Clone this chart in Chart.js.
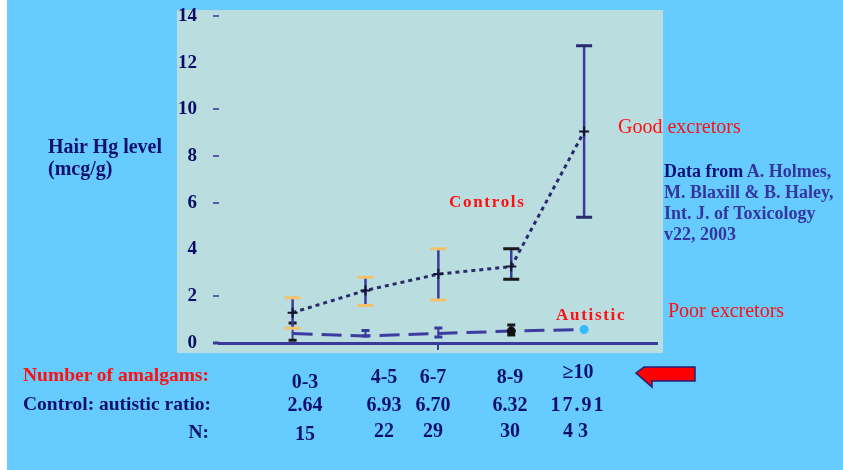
<!DOCTYPE html>
<html>
<head>
<meta charset="utf-8">
<script src="https://cdn.jsdelivr.net/npm/chart.js@4/dist/chart.umd.min.js"></script>
<style>
  body { margin: 0; width: 843px; height: 470px; background: #fff; position: relative; overflow: hidden; }
  #bg { position: absolute; left: 7px; top: 0; width: 836px; height: 470px; background: #66ccff; }
  #chart { position: absolute; left: 0; top: 0; }
  .t { position: absolute; font-family: 'Liberation Serif', 'Times New Roman', serif; white-space: nowrap; line-height: 22px; }
  .b { font-weight: bold; }
  .navy { color: #10106e; }
  .red { color: #ff1010; }
  .col { position: absolute; font-family: 'Liberation Serif', serif; font-weight: bold; font-size: 20px; color: #10106e; line-height: 22px; text-align: center; width: 70px; margin-left: -35px; }
</style>
</head>
<body>
<div id="bg"></div>
<canvas id="chart" width="843" height="470"></canvas>

<div class="t b navy" style="left:48px; top:135px; font-size:20px;">Hair Hg level<br>(mcg/g)</div>
<div class="t red" style="left:618px; top:115px; font-size:20px;">Good excretors</div>
<div class="t red" style="left:668px; top:299px; font-size:20px;">Poor excretors</div>
<div class="t b" style="left:664px; top:161px; font-size:18px; line-height:21px; color:#3535a0;"><span style="color:#10107a">Data from</span> A. Holmes,<br>M. Blaxill &amp; B. Haley,<br>Int. J. of Toxicology<br>v22, 2003</div>
<div class="t b red" style="left:449px; top:191px; font-size:17px; letter-spacing:1.7px;">Controls</div>
<div class="t b red" style="left:556px; top:304px; font-size:17px; letter-spacing:1.7px;">Autistic</div>

<div class="t b red" style="left:23px; top:364px; font-size:19.5px;">Number of amalgams:</div>
<div class="t b navy" style="left:23px; top:393px; font-size:19.5px;">Control: autistic ratio:</div>
<div class="t b navy" style="left:23px; top:421px; font-size:19.5px; width:186px; text-align:right;">N:</div>
<div id="table"></div>

<svg style="position:absolute; left:0; top:0;" width="843" height="470">
  <polygon points="636,373 644,367 695,367 695,381 652,381 652,387" fill="#ff0000" stroke="#20207a" stroke-width="1.5"/>
</svg>

<script>
// amalgam groups
const categories = ['0-3', '4-5', '6-7', '8-9', '≥10'];
const xPos = [0, 1, 2, 3, 4];

// hair Hg, controls (mean and error range)
const controls = [1.30, 2.25, 2.95, 3.27, 9.05];
const controlsLow = [0.63, 1.61, 1.84, 2.73, 5.38];
const controlsHigh = [1.94, 2.81, 4.04, 4.04, 12.73];

// hair Hg, autistic
const autistic = [0.41, 0.30, 0.41, 0.51, 0.58];
const autisticLow = [0.12, 0.30, 0.26, 0.34, 0.58];
const autisticHigh = [0.86, 0.53, 0.64, 0.77, 0.58];

// table rows
const ratios = ['2.64', '6.93', '6.70', '6.32', '17.91'];
const counts = ['15', '22', '29', '30', '43'];

const yTicks = [0, 2, 4, 6, 8, 10, 12, 14];

// table layout
const colCenters = [305, 384, 433, 510, 578];
const rowTops = [[370, 365, 365, 365, 360], [393, 393, 393, 393, 393], [422, 419, 419, 419, 419]];
const table = document.getElementById('table');
[categories, ratios, counts].forEach((row, r) => {
  row.forEach((txt, i) => {
    const d = document.createElement('div');
    d.className = 'col';
    d.style.left = colCenters[i] + 'px';
    d.style.top = rowTops[r][i] + 'px';
    if (r > 0 && i === 4) d.style.letterSpacing = r === 1 ? '2px' : '5px';
    d.textContent = txt;
    table.appendChild(d);
  });
});

const panel = {
  id: 'panel',
  beforeDraw(chart) {
    const { ctx, chartArea: a } = chart;
    ctx.save();
    ctx.fillStyle = '#badde0';
    ctx.fillRect(a.left - 42, a.top - 6, a.right - a.left + 48, a.bottom - a.top + 16);
    ctx.restore();
  },
  afterDraw(chart) {
    // axis line reaches past the tick marks on the left
    const { ctx, chartArea: a, scales: { y } } = chart;
    ctx.save();
    ctx.strokeStyle = '#3a3a9a';
    ctx.lineWidth = 3;
    ctx.beginPath();
    ctx.moveTo(a.left - 6, y.getPixelForValue(0));
    ctx.lineTo(a.left, y.getPixelForValue(0));
    ctx.stroke();
    ctx.restore();
  }
};

const capColorsC = ['#f5c26b', '#f5c26b', '#f5c26b', '#1a1a1a', '#2a2a70'];

const errorBars = {
  id: 'errorBars',
  beforeDatasetsDraw(chart) {
    const { ctx, scales: { x, y } } = chart;
    const draw = (lo, hi, caps, lw, half) => {
      xPos.forEach((v, i) => {
        if (lo[i] === hi[i]) return;
        const px = x.getPixelForValue(v);
        const y1 = y.getPixelForValue(lo[i]);
        const y2 = y.getPixelForValue(hi[i]);
        ctx.strokeStyle = '#3a3a9a';
        ctx.lineWidth = lw;
        ctx.beginPath();
        ctx.moveTo(px, y1);
        ctx.lineTo(px, y2);
        ctx.stroke();
        ctx.strokeStyle = caps[i];
        ctx.lineWidth = 3;
        ctx.beginPath();
        ctx.moveTo(px - half, y1); ctx.lineTo(px + half, y1);
        ctx.moveTo(px - half, y2); ctx.lineTo(px + half, y2);
        ctx.stroke();
      });
    };
    ctx.save();
    draw(autisticLow, autisticHigh, ['#1a1a1a', '#3a3a9a', '#3a3a9a', '#1a1a1a', '#1a1a1a'], 2, 4);
    draw(controlsLow, controlsHigh, capColorsC, 2.5, 8);
    ctx.restore();
  }
};

new Chart(document.getElementById('chart').getContext('2d'), {
  type: 'line',
  data: {
    datasets: [
      {
        label: 'Controls',
        data: xPos.map((v, i) => ({ x: v, y: controls[i] })),
        borderColor: '#2a2a6e',
        borderWidth: 3,
        borderDash: [4, 4],
        pointStyle: 'cross',
        pointRadius: 5,
        pointBorderColor: '#151530',
        pointBorderWidth: 2,
        tension: 0,
      },
      {
        label: 'Autistic',
        data: xPos.map((v, i) => ({ x: v, y: autistic[i] })),
        borderColor: '#3d3da0',
        borderWidth: 3,
        borderDash: [20, 9],
        pointRadius: [0, 0, 0, 3, 3],
        pointBackgroundColor: ['#000', '#000', '#000', '#111', '#33bbff'],
        pointBorderColor: ['#000', '#000', '#000', '#111', '#33bbff'],
        tension: 0,
      },
    ],
  },
  options: {
    responsive: false,
    animation: false,
    layout: { padding: { left: 160, right: 186, top: 16, bottom: 0 } },
    plugins: { legend: { display: false }, tooltip: { enabled: false } },
    scales: {
      x: {
        type: 'linear',
        min: -1.01,
        max: 5,
        afterBuildTicks: (s) => { s.ticks = [{ value: 2 }]; },
        afterFit: (s) => { s.height = 127; s.paddingLeft = 0; s.paddingRight = 0; },
        ticks: { display: false },
        grid: { drawOnChartArea: false, tickLength: 7, color: '#3a3a9a', lineWidth: 2 },
        border: { color: '#3a3a9a', width: 3 },
      },
      y: {
        min: 0,
        max: 14,
        afterBuildTicks: (s) => { s.ticks = yTicks.map((v) => ({ value: v })); },
        afterFit: (s) => { s.width = 59; s.paddingTop = 0; s.paddingBottom = 0; },
        ticks: {
          padding: 16,
          color: '#0c0c66',
          font: { family: 'Liberation Serif', weight: 'bold', size: 19 },
        },
        grid: {
          drawOnChartArea: false,
          tickLength: 6,
          lineWidth: 2,
          color: (c) => ([0, 4, 12].includes(c.tick && c.tick.value) ? 'rgba(0,0,0,0)' : '#5a5aa8'),
        },
        border: { display: false },
      },
    },
  },
  plugins: [panel, errorBars],
});
</script>
</body>
</html>
